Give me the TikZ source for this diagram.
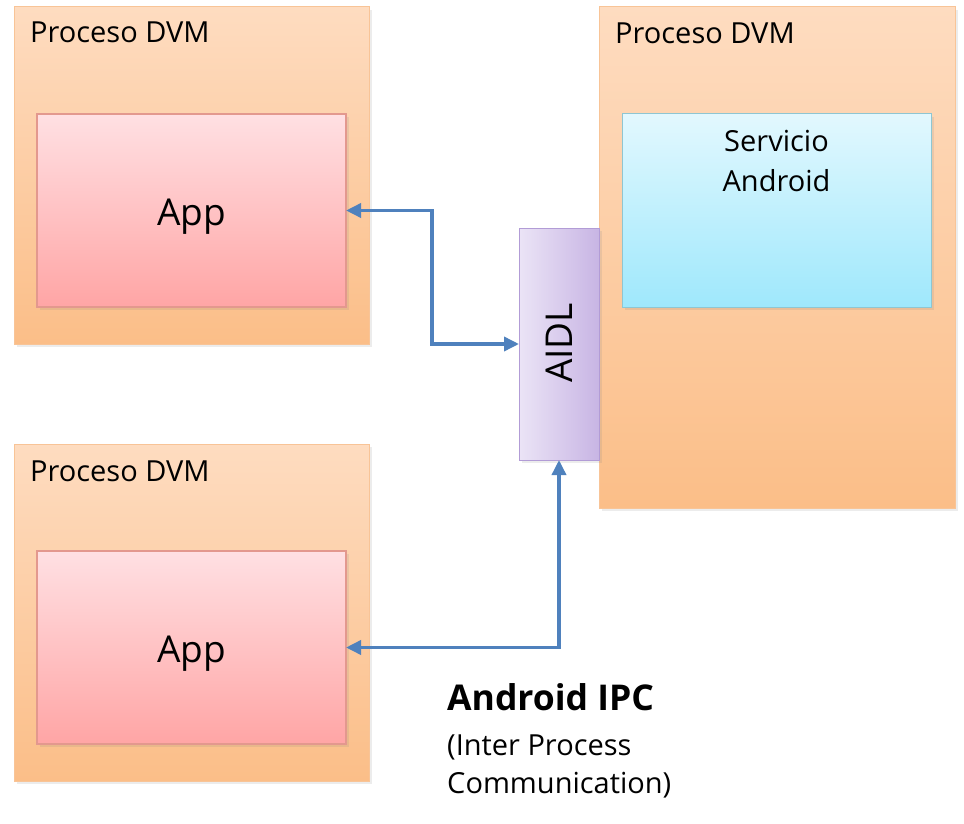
\documentclass[tikz,border=0pt]{standalone}
\usepackage{fontspec}
\setmainfont{Open Sans}
\usetikzlibrary{arrows.meta,shadows}
\definecolor{outtop}{HTML}{FEDCC0}
\definecolor{outbot}{HTML}{FBBE88}
\definecolor{outline}{HTML}{F8C497}
\definecolor{apptop}{HTML}{FFE0E3}
\definecolor{appbot}{HTML}{FFA5A5}
\definecolor{appline}{HTML}{E3988E}
\definecolor{svctop}{HTML}{E2F8FE}
\definecolor{svcbot}{HTML}{9FE8FC}
\definecolor{svcline}{HTML}{8EC6D2}
\definecolor{aidlleft}{HTML}{EBE4F6}
\definecolor{aidlright}{HTML}{C8B5E4}
\definecolor{aidlline}{HTML}{B29CD6}
\definecolor{arrowblue}{HTML}{4F81BD}
\tikzset{
  box/.style={rectangle, anchor=north west, inner sep=0pt, outer sep=0pt,
    line width=1pt, drop shadow={shadow xshift=3pt, shadow yshift=-3pt, opacity=0.15}},
  procbox/.style={box, draw=outline, top color=outtop, bottom color=outbot},
  appbox/.style={box, draw=appline, line width=1.5pt, top color=apptop, bottom color=appbot},
  svcbox/.style={box, draw=svcline, top color=svctop, bottom color=svcbot},
  aidlbox/.style={box, draw=aidlline, left color=aidlleft, right color=aidlright},
  proclabel/.style={anchor=base west, inner sep=0pt, font=\fontsize{29}{35}\selectfont},
  conn/.style={draw=arrowblue, line width=3.5pt,
    {Triangle[length=15pt,width=14pt]}-{Triangle[length=15pt,width=14pt]}}
}
\begin{document}
\begin{tikzpicture}[x=1pt,y=-1pt]
\useasboundingbox (0,0) rectangle (964,824);
% process boxes
\node[procbox, minimum width=355pt, minimum height=337pt] (p1) at (14,7) {};
\node[procbox, minimum width=355pt, minimum height=337pt] (p2) at (14,444) {};
\node[procbox, minimum width=356pt, minimum height=501pt] (p3) at (599,7) {};
\node[proclabel] (l1) at (30,43) {Proceso DVM};
\node[proclabel] (l2) at (30,481) {Proceso DVM};
\node[proclabel] (l3) at (615,44) {Proceso DVM};
% inner boxes
\node[appbox, minimum width=309pt, minimum height=193pt] (app1) at (37,114) {};
\node[appbox, minimum width=309pt, minimum height=193pt] (app2) at (37,551) {};
\node[svcbox, minimum width=309pt, minimum height=193pt] (svc) at (622,114) {};
\node[aidlbox, minimum width=80pt, minimum height=232pt] (aidl) at (519,228) {};
\node[anchor=base, inner sep=0pt, font=\fontsize{37}{44}\selectfont] (t1) at (191.5,225) {App};
\node[anchor=base, inner sep=0pt, font=\fontsize{37}{44}\selectfont] (t2) at (191.5,662) {App};
\node[anchor=north, inner sep=0pt, align=center, font=\fontsize{29}{40}\selectfont] (t3) at (776.5,130) {Servicio\\Android};
\node[rotate=90, inner sep=0pt, font=\fontsize{37}{44}\selectfont] (t4) at (559,343) {AIDL};
% connectors
\draw[conn] (app1.east) -- ++(86,0) |- (aidl.west);
\draw[conn] (app2.east) -| (aidl.south);
% caption
\node[anchor=base west, inner sep=0pt, font=\bfseries\fontsize{35.5}{42}\selectfont] (c1) at (447,710) {Android IPC};
\node[anchor=north west, inner sep=0pt, align=left, font=\fontsize{29}{38}\selectfont] (c2) at (447,735) {(Inter Process\\Communication)};
\end{tikzpicture}
\end{document}
